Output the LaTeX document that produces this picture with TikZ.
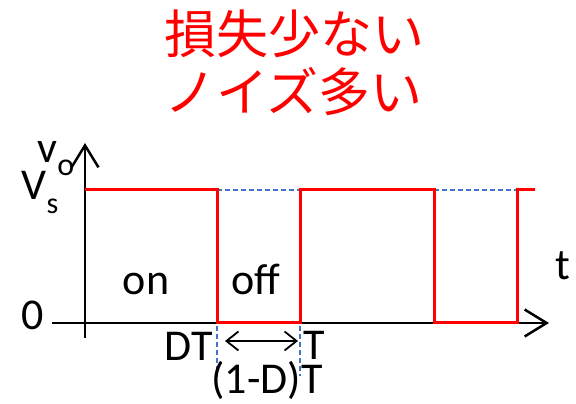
\documentclass[tikz,border=0pt]{standalone}
\usepackage{fontspec}
\setmainfont{Carlito}
\newfontfamily\jpfont{Noto Sans CJK JP}
\usetikzlibrary{arrows.meta}
\definecolor{dashblue}{RGB}{68,114,196}
\tikzset{
  axis/.style={line width=2.5pt, -{Straight Barb[length=22pt,width=27pt,line width=2.5pt]}},
  wave/.style={red, line width=3pt},
  guide/.style={dashblue, line width=1.6pt, dash pattern=on 5pt off 3pt},
  lbl/.style={font=\fontsize{44}{44}\selectfont, inner sep=0pt, anchor=base},
  jp/.style={red, font=\jpfont\fontsize{52}{52}\selectfont, inner sep=0pt, anchor=base west},
}
\begin{document}
\begin{tikzpicture}[x=1pt,y=1pt]
  \useasboundingbox (0,0) rectangle (576,404);
  % title
  \node[jp] (loss) at (164,350) {損失少ない};
  \node[jp] (noise) at (164,292) {ノイズ多い};
  % axes
  \coordinate (yb) at (85,66);
  \coordinate (yt) at (85,261);
  \coordinate (xl) at (52,81);
  \coordinate (xr) at (549,81);
  \draw[axis] (yb) -- (yt);
  \draw[axis] (xl) -- (xr);
  % waveform
  \coordinate (p0) at (85,214);
  \coordinate (p1) at (217,214);
  \coordinate (p2) at (217,81);
  \coordinate (p3) at (300,81);
  \coordinate (p4) at (300,214);
  \coordinate (p5) at (434,214);
  \coordinate (p6) at (434,81);
  \coordinate (p7) at (517,81);
  \coordinate (p8) at (517,214);
  \coordinate (p9) at (535,214);
  % guides
  \coordinate (g1) at (217,27);
  \coordinate (g2) at (300,28);
  \draw[guide] (p1) -- (g1);
  \draw[guide] (p4) -- (g2);
  \draw[guide] (p1) -- (p4);
  \draw[guide] (p5) -- (p8);
  \draw[wave, line join=miter] (p0) -- (p1) -- (p2) -- (p3) -- (p4) -- (p5) -- (p6) -- (p7) -- (p8) -- (p9);
  % off interval
  \coordinate (arrL) at (225,63);
  \coordinate (arrR) at (298,63);
  \draw[line width=1.8pt, {Straight Barb[length=12pt,width=19pt,line width=1.8pt]}-{Straight Barb[length=12pt,width=19pt,line width=1.8pt]}] (arrL) -- (arrR);
  % labels
  \node[lbl] (vo) at (56,241) {v\raisebox{-0.28em}{\fontsize{32}{32}\selectfont o}};
  \node[lbl] (vs) at (40,204) {V\raisebox{-0.3em}{\fontsize{30}{30}\selectfont s}};
  \node[lbl] (zero) at (33,74) {0};
  \node[lbl] (tax) at (563,124) {t};
  \node[lbl] (on) at (146,109) {on};
  \node[lbl] (off) at (256,109) {off};
  \node[lbl, anchor=base east] (dt) at (213,43) {DT};
  \node[lbl, anchor=base west] (tp) at (303,44) {T};
  \node[lbl] (offlen) at (267,10) {(1-D)T};
\end{tikzpicture}
\end{document}
